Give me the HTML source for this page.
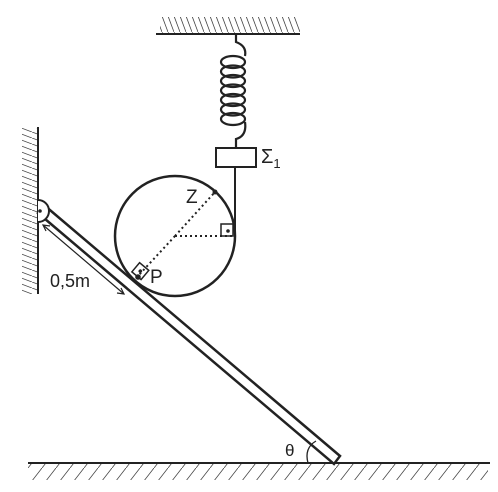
<!DOCTYPE html>
<html><head><meta charset="utf-8"><style>
html,body{margin:0;padding:0;background:#fff}
svg{display:block}
text{font-family:"Liberation Sans",sans-serif;fill:#222}
</style></head><body>
<svg width="498" height="492" viewBox="0 0 498 492">
<defs>
<pattern id="hc" width="6" height="16" patternUnits="userSpaceOnUse"><line x1="0" y1="0" x2="6" y2="16" stroke="#444" stroke-width="0.8"/></pattern>
<pattern id="hw" width="16" height="6" patternUnits="userSpaceOnUse"><line x1="0" y1="0" x2="16" y2="6" stroke="#444" stroke-width="0.8"/></pattern>
<pattern id="hg" width="14" height="18" patternUnits="userSpaceOnUse"><line x1="0" y1="18" x2="14" y2="0" stroke="#444" stroke-width="0.8"/></pattern>
</defs>
<g>
<rect x="160" y="17" width="140" height="16" fill="url(#hc)"/>
<line x1="156" y1="34" x2="300" y2="34" stroke="#222" stroke-width="2"/>
</g>
<g>
<rect x="22" y="128" width="16" height="166" fill="url(#hw)"/>
<line x1="38" y1="127" x2="38" y2="294" stroke="#222" stroke-width="2"/>
</g>
<g>
<rect x="28" y="464" width="210" height="16" fill="url(#hg)"/>
<rect x="238" y="464" width="250" height="16" fill="url(#hg)"/>
<line x1="28" y1="463" x2="490" y2="463" stroke="#222" stroke-width="2"/>
</g>
<g fill="none" stroke="#222" stroke-width="2.2">
<path d="M236 34 V42 Q247 46 245 56"/>
<ellipse cx="233" cy="62" rx="12" ry="6"/>
<ellipse cx="233" cy="71.5" rx="12" ry="6"/>
<ellipse cx="233" cy="81" rx="12" ry="6"/>
<ellipse cx="233" cy="90.5" rx="12" ry="6"/>
<ellipse cx="233" cy="100" rx="12" ry="6"/>
<ellipse cx="233" cy="109.5" rx="12" ry="6"/>
<ellipse cx="233" cy="119" rx="12" ry="6"/>
<path d="M245 122 Q247 136 236 139 V148"/>
</g>
<rect x="216" y="148" width="40" height="19" fill="#fff" stroke="#222" stroke-width="2"/>
<text x="261" y="163" font-size="20">Σ<tspan font-size="13" dy="5">1</tspan></text>
<line x1="235" y1="167" x2="235" y2="236" stroke="#222" stroke-width="2"/>
<circle cx="175" cy="236" r="60" fill="none" stroke="#222" stroke-width="2.5"/>
<g stroke="#222" stroke-width="2" stroke-dasharray="2 3">
<line x1="175" y1="236" x2="215" y2="192"/>
<line x1="175" y1="236" x2="138" y2="276"/>
<line x1="175" y1="236" x2="234" y2="236"/>
</g>
<rect x="221" y="224" width="12" height="12" fill="none" stroke="#222" stroke-width="1.5"/>
<circle cx="228" cy="231" r="1.8" fill="#222"/>
<g transform="rotate(40 138 277)">
<rect x="130" y="265" width="12" height="12" fill="none" stroke="#222" stroke-width="1.5"/>
<circle cx="136" cy="271" r="1.8" fill="#222"/>
</g>
<circle cx="215" cy="192" r="2.5" fill="#222"/>
<circle cx="138" cy="277" r="2.8" fill="#222"/>
<text x="186" y="203" font-size="19">Z</text>
<text x="150" y="283" font-size="19">P</text>
<g>
<polygon points="44,205 340,456 334,464 38,213" fill="#fff" stroke="#222" stroke-width="2.5"/>
</g>
<path d="M38 200 A11 11 0 0 1 38 222" fill="#fff" stroke="#222" stroke-width="2"/>
<circle cx="40" cy="211" r="1.8" fill="#222"/>
<g stroke="#222" stroke-width="1.2" fill="none">
<line x1="43" y1="225" x2="124" y2="294"/>
<path d="M50 226 L43 225 L46 231"/>
<path d="M117 293 L124 294 L121 288"/>
</g>
<text x="50" y="287" font-size="18">0,5m</text>
<path d="M308 463 Q304 448 316 441" fill="none" stroke="#222" stroke-width="1.3"/>
<text x="285" y="456" font-size="17">θ</text>
</svg>
</body></html>
